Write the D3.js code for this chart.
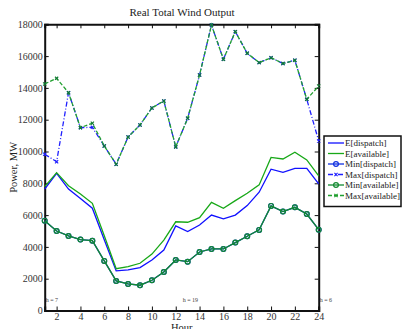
<!DOCTYPE html>
<html>
<head>
<meta charset="utf-8">
<script src="https://cdn.jsdelivr.net/npm/d3@7"></script>
<style>
  body { margin: 0; background: #fff; }
  svg { display: block; font-family: "Liberation Serif", "Times New Roman", serif; }
</style>
</head>
<body>
<svg id="chart" width="402" height="329"></svg>
<script>
// hours 1..24
const hours = d3.range(1, 25);

const eDispatch = [7640, 8630, 7640, 7050, 6430, 4450, 2490, 2550, 2700, 3180, 3800, 5320,
  4960, 5380, 6000, 5760, 6000, 6600, 7440, 8890, 8690, 8940, 8940, 7960];
const eAvailable = [7790, 8670, 7850, 7330, 6740, 4700, 2630, 2760, 2970, 3550, 4430, 5580,
  5550, 5840, 6800, 6430, 6910, 7370, 7900, 9630, 9530, 9950, 9470, 8470];
const minDispatch = [5650, 5000, 4690, 4460, 4390, 3120, 1860, 1670, 1590, 1900, 2420, 3180,
  3070, 3680, 3870, 3870, 4270, 4670, 5070, 6580, 6220, 6490, 6070, 5080];
const minAvailable = [5650, 5000, 4690, 4460, 4390, 3120, 1860, 1670, 1590, 1900, 2420, 3180,
  3070, 3680, 3870, 3870, 4270, 4670, 5070, 6580, 6220, 6490, 6070, 5080];
const maxDispatch = [9830, 9360, 13700, 11500, 11520, 10350, 9200, 10910, 11670, 12740, 13180, 10290,
  12090, 14810, 17960, 15800, 17540, 16180, 15590, 15900, 15530, 15740, 13280, 10660];
const maxAvailable = [14250, 14600, 13700, 11500, 11780, 10350, 9200, 10910, 11670, 12740, 13180, 10290,
  12090, 14810, 17960, 15800, 17540, 16180, 15590, 15900, 15530, 15740, 13280, 14120];

const xTicks = [2, 4, 6, 8, 10, 12, 14, 16, 18, 20, 22, 24];
const yTicks = [0, 2000, 4000, 6000, 8000, 10000, 12000, 14000, 16000, 18000];
const notes = [{ h: 1, label: "h = 7" }, { h: 12.5, label: "h = 19" }, { h: 24, label: "h = 6" }];

const svg = d3.select("#chart");
const pLeft = 44.7, pRight = 318.7, pTop = 24.3, pBottom = 310.5;
const serif = "'Liberation Serif', 'Times New Roman', serif";

const x = d3.scaleLinear().domain([1, 24]).range([pLeft, pRight]);
const y = d3.scaleLinear().domain([0, 18000]).range([pBottom, pTop]);

// title and labels
svg.append("text").attr("x", 182).attr("y", 16).attr("text-anchor", "middle")
  .attr("font-size", 11).attr("fill", "#222").text("Real Total Wind Output");
svg.append("text").attr("transform", "translate(17," + ((pTop + pBottom) / 2) + ") rotate(-90)")
  .attr("text-anchor", "middle").attr("font-size", 10.5).attr("fill", "#222").text("Power, MW");
svg.append("text").attr("x", (pLeft + pRight) / 2).attr("y", 330.5).attr("text-anchor", "middle")
  .attr("font-size", 10.5).attr("fill", "#222").text("Hour");

// axes with inward ticks
const fmt = d3.format("d");
const axB = svg.append("g").attr("transform", "translate(0," + pBottom + ")")
  .call(d3.axisBottom(x).tickValues(xTicks).tickSize(-4).tickPadding(2.5).tickFormat(fmt));
const axT = svg.append("g").attr("transform", "translate(0," + pTop + ")")
  .call(d3.axisTop(x).tickValues(xTicks).tickSize(-4).tickFormat(""));
const axL = svg.append("g").attr("transform", "translate(" + pLeft + ",0)")
  .call(d3.axisLeft(y).tickValues(yTicks).tickSize(-4).tickPadding(2).tickFormat(fmt));
const axR = svg.append("g").attr("transform", "translate(" + pRight + ",0)")
  .call(d3.axisRight(y).tickValues(yTicks).tickSize(-4).tickFormat(""));
[axB, axT, axL, axR].forEach(a => {
  a.attr("font-family", serif).attr("font-size", 10);
  a.select(".domain").attr("stroke", "#111").attr("stroke-width", 2);
  a.selectAll(".tick line").attr("stroke", "#111");
  a.selectAll("text").attr("fill", "#333");
});

// notes
svg.selectAll(".note").data(notes).enter().append("text")
  .attr("x", d => x(d.h) + 1).attr("y", 302)
  .attr("font-size", 6).attr("fill", "#444").text(d => d.label);

const line = d3.line().x((d, i) => x(hours[i])).y(d => y(d));

const series = [
  { name: "E[dispatch]", data: eDispatch, color: "#1010ff", dash: null, marker: null },
  { name: "E[available]", data: eAvailable, color: "#18a818", dash: null, marker: null },
  { name: "Min[dispatch]", data: minDispatch, color: "#1030e0", dash: null, marker: "o" },
  { name: "Max[dispatch]", data: maxDispatch, color: "#2020ff", dash: "5,2,1,2", marker: "x" },
  { name: "Min[available]", data: minAvailable, color: "#128a30", dash: null, marker: "o" },
  { name: "Max[available]", data: maxAvailable, color: "#22a030", dash: "4,2", marker: "x" }
];

function drawMarker(g, kind, cx, cy, color) {
  if (kind === "o") {
    g.append("circle").attr("cx", cx).attr("cy", cy).attr("r", 2.4)
      .attr("fill", "none").attr("stroke", color).attr("stroke-width", 1.2);
  } else if (kind === "x") {
    g.append("path").attr("d", `M${cx - 1.6},${cy - 1.6}L${cx + 1.6},${cy + 1.6}M${cx - 1.6},${cy + 1.6}L${cx + 1.6},${cy - 1.6}`)
      .attr("stroke", color).attr("stroke-width", 1.1);
  }
}

const plot = svg.append("g");
series.forEach(s => {
  plot.append("path").datum(s.data).attr("d", line)
    .attr("fill", "none").attr("stroke", s.color).attr("stroke-width", 1.3)
    .attr("stroke-dasharray", s.dash);
  if (s.marker) {
    const mg = plot.append("g");
    s.data.forEach((v, i) => drawMarker(mg, s.marker, x(hours[i]), y(v),
      s.name === "Max[available]" ? "#117a33" : s.color));
  }
});

// legend
const lg = svg.append("g").attr("transform", "translate(324,136)");
lg.append("rect").attr("width", 77).attr("height", 70.5)
  .attr("fill", "#fff").attr("stroke", "#111").attr("stroke-width", 1.5);
series.forEach((s, i) => {
  const ly = 7 + i * 10.5;
  lg.append("line").attr("x1", 4).attr("x2", 20).attr("y1", ly).attr("y2", ly)
    .attr("stroke", s.color).attr("stroke-width", 1.3).attr("stroke-dasharray", s.dash);
  if (s.marker) drawMarker(lg, s.marker, 12, ly, s.color);
  lg.append("text").attr("x", 21).attr("y", ly + 3.3).attr("font-size", 9)
    .attr("fill", "#222").text(s.name);
});
</script>
</body>
</html>
